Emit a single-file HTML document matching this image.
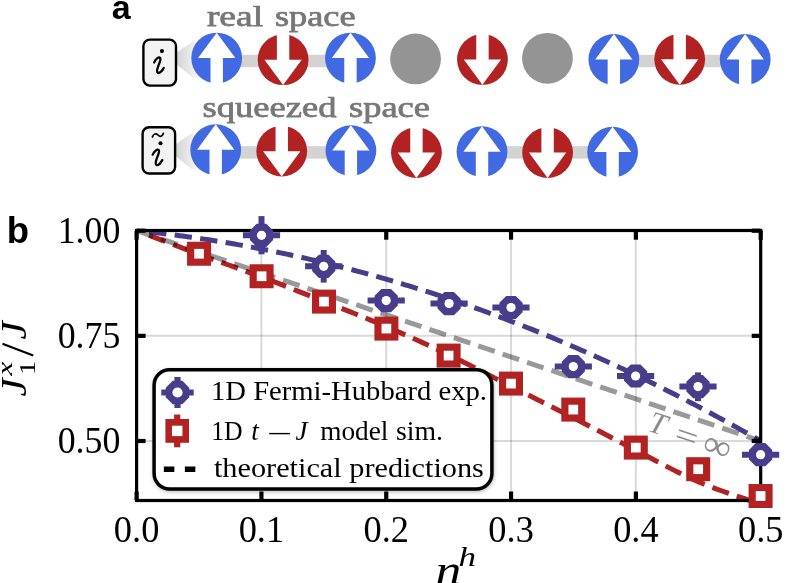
<!DOCTYPE html>
<html><head><meta charset="utf-8"><style>html,body{margin:0;padding:0;background:#fff;}svg{display:block;will-change:transform;}</style></head>
<body>
<svg width="800" height="583" viewBox="0 0 800 583">
<defs>
<linearGradient id="cone" x1="0" y1="0" x2="1" y2="0"><stop offset="0" stop-color="#d2d2d2"/><stop offset="1" stop-color="#f9f9f9"/></linearGradient>
<filter id="sh" x="-10%" y="-10%" width="120%" height="130%"><feGaussianBlur stdDeviation="2.2"/></filter>
</defs>
<rect width="800" height="583" fill="#fff"/>
<text x="111.8" y="18.6" font-family="Liberation Sans, sans-serif" font-weight="bold" font-size="34" fill="#000">a</text>
<text x="206.9" y="25.9" font-family="Liberation Serif, serif" font-size="30" fill="#777" stroke="#777" stroke-width="0.75" lengthAdjust="spacingAndGlyphs" textLength="56.2">real</text>
<text x="274.9" y="25.9" font-family="Liberation Serif, serif" font-size="30" fill="#777" stroke="#777" stroke-width="0.75" lengthAdjust="spacingAndGlyphs" textLength="80.6">space</text>
<text x="202.6" y="117.4" font-family="Liberation Serif, serif" font-size="30" fill="#777" stroke="#777" stroke-width="0.75" lengthAdjust="spacingAndGlyphs" textLength="133.8">squeezed</text>
<text x="349.0" y="117.4" font-family="Liberation Serif, serif" font-size="30" fill="#777" stroke="#777" stroke-width="0.75" lengthAdjust="spacingAndGlyphs" textLength="81">space</text>
<polygon fill="url(#cone)" points="176.2,52.8 192.8,41.4 199.3,41.4 199.3,77.8 192.8,77.8 176.2,64.0"/>
<rect x="216.70" y="54.80" width="66.40" height="12.4" fill="#d3d3d3"/>
<rect x="283.10" y="54.80" width="67.35" height="12.4" fill="#d3d3d3"/>
<rect x="613.85" y="54.80" width="65.85" height="12.4" fill="#d3d3d3"/>
<rect x="679.70" y="54.80" width="65.50" height="12.4" fill="#d3d3d3"/>
<circle cx="216.70" cy="58.05" r="25.4" fill="#4169e1"/><polygon fill="#fff" points="216.70,32.65 235.35,58.05 222.90,58.05 222.90,84.45 210.50,84.45 210.50,58.05 198.05,58.05"/>
<circle cx="283.10" cy="59.70" r="25.4" fill="#b22222"/><polygon fill="#fff" points="283.10,85.10 301.75,59.70 289.30,59.70 289.30,33.30 276.90,33.30 276.90,59.70 264.45,59.70"/>
<circle cx="350.45" cy="58.05" r="25.4" fill="#4169e1"/><polygon fill="#fff" points="350.45,32.65 369.10,58.05 356.65,58.05 356.65,84.45 344.25,84.45 344.25,58.05 331.80,58.05"/>
<circle cx="415.55" cy="58.95" r="25.4" fill="#949494"/>
<circle cx="482.45" cy="59.45" r="25.4" fill="#b22222"/><polygon fill="#fff" points="482.45,84.85 501.10,59.45 488.65,59.45 488.65,33.05 476.25,33.05 476.25,59.45 463.80,59.45"/>
<circle cx="547.45" cy="58.30" r="25.4" fill="#949494"/>
<circle cx="613.85" cy="59.50" r="25.4" fill="#4169e1"/><polygon fill="#fff" points="613.85,34.10 632.50,59.50 620.05,59.50 620.05,85.90 607.65,85.90 607.65,59.50 595.20,59.50"/>
<circle cx="679.70" cy="59.30" r="25.4" fill="#b22222"/><polygon fill="#fff" points="679.70,84.70 698.35,59.30 685.90,59.30 685.90,32.90 673.50,32.90 673.50,59.30 661.05,59.30"/>
<circle cx="745.20" cy="59.50" r="25.4" fill="#4169e1"/><polygon fill="#fff" points="745.20,34.10 763.85,59.50 751.40,59.50 751.40,85.90 739.00,85.90 739.00,59.50 726.55,59.50"/>
<rect x="143.40" y="39.60" width="32.60" height="46.00" rx="6.5" fill="#f3f3f3" stroke="#000" stroke-width="2.4"/>
<path d="M154.10,62.50 C155.50,59.30 158.60,56.40 160.20,57.90 C161.20,59.50 159.50,63.00 158.30,66.00 C157.20,69.00 156.20,71.60 157.80,72.80 C159.60,73.80 162.50,70.50 163.70,67.90" fill="none" stroke="#000" stroke-width="2.3" stroke-linecap="round"/><circle cx="161.90" cy="51.10" r="2.05" fill="#000"/>
<polygon fill="url(#cone)" points="175.3,144.4 191.8,133.1 198.3,133.1 198.3,169.4 191.8,169.4 175.3,155.7"/>
<rect x="215.70" y="146.20" width="66.05" height="12.4" fill="#d3d3d3"/>
<rect x="281.75" y="146.20" width="69.15" height="12.4" fill="#d3d3d3"/>
<rect x="482.00" y="146.20" width="65.60" height="12.4" fill="#d3d3d3"/>
<rect x="547.60" y="146.20" width="65.00" height="12.4" fill="#d3d3d3"/>
<circle cx="215.70" cy="149.70" r="25.4" fill="#4169e1"/><polygon fill="#fff" points="215.70,124.30 234.35,149.70 221.90,149.70 221.90,176.10 209.50,176.10 209.50,149.70 197.05,149.70"/>
<circle cx="281.75" cy="151.15" r="25.4" fill="#b22222"/><polygon fill="#fff" points="281.75,176.55 300.40,151.15 287.95,151.15 287.95,124.75 275.55,124.75 275.55,151.15 263.10,151.15"/>
<circle cx="350.90" cy="150.60" r="25.4" fill="#4169e1"/><polygon fill="#fff" points="350.90,125.20 369.55,150.60 357.10,150.60 357.10,177.00 344.70,177.00 344.70,150.60 332.25,150.60"/>
<circle cx="416.45" cy="152.60" r="25.4" fill="#b22222"/><polygon fill="#fff" points="416.45,178.00 435.10,152.60 422.65,152.60 422.65,126.20 410.25,126.20 410.25,152.60 397.80,152.60"/>
<circle cx="482.00" cy="151.65" r="25.4" fill="#4169e1"/><polygon fill="#fff" points="482.00,126.25 500.65,151.65 488.20,151.65 488.20,178.05 475.80,178.05 475.80,151.65 463.35,151.65"/>
<circle cx="547.60" cy="152.60" r="25.4" fill="#b22222"/><polygon fill="#fff" points="547.60,178.00 566.25,152.60 553.80,152.60 553.80,126.20 541.40,126.20 541.40,152.60 528.95,152.60"/>
<circle cx="612.60" cy="152.10" r="25.4" fill="#4169e1"/><polygon fill="#fff" points="612.60,126.70 631.25,152.10 618.80,152.10 618.80,178.50 606.40,178.50 606.40,152.10 593.95,152.10"/>
<rect x="142.60" y="127.20" width="32.50" height="46.30" rx="6.5" fill="#f3f3f3" stroke="#000" stroke-width="2.4"/>
<path d="M152.70,154.60 C154.10,151.40 157.20,148.50 158.80,150.00 C159.80,151.60 158.10,155.10 156.90,158.10 C155.80,161.10 154.80,163.70 156.40,164.90 C158.20,165.90 161.10,162.60 162.30,160.00" fill="none" stroke="#000" stroke-width="2.3" stroke-linecap="round"/><circle cx="160.50" cy="143.20" r="2.05" fill="#000"/>
<path d="M152.4,136.9 C153.6,133.6 156.2,133.1 158,135 C159.8,136.9 162.2,136.9 163.4,133.4" fill="none" stroke="#000" stroke-width="1.7" stroke-linecap="round"/>
<text x="6.7" y="243.2" font-family="Liberation Sans, sans-serif" font-weight="bold" font-size="36.5" fill="#000">b</text>
<line x1="261.42" y1="230.7" x2="261.42" y2="500.5" stroke="#000" stroke-opacity="0.15" stroke-width="2"/>
<line x1="386.24" y1="230.7" x2="386.24" y2="500.5" stroke="#000" stroke-opacity="0.15" stroke-width="2"/>
<line x1="511.06" y1="230.7" x2="511.06" y2="500.5" stroke="#000" stroke-opacity="0.15" stroke-width="2"/>
<line x1="635.88" y1="230.7" x2="635.88" y2="500.5" stroke="#000" stroke-opacity="0.15" stroke-width="2"/>
<line x1="136.6" y1="335.85" x2="760.7" y2="335.85" stroke="#000" stroke-opacity="0.15" stroke-width="2"/>
<line x1="136.6" y1="441.00" x2="760.7" y2="441.00" stroke="#000" stroke-opacity="0.15" stroke-width="2"/>
<path d="M149.08,235.33 L151.45,236.23 L154.37,237.34 L157.76,238.64 L161.56,240.09 L165.71,241.68 L170.15,243.37 L174.79,245.14 L179.59,246.96 L184.48,248.81 L189.39,250.66 L194.25,252.48 L199.01,254.25 L203.77,256.01 L208.69,257.80 L213.73,259.63 L218.89,261.48 L224.13,263.36 L229.43,265.27 L234.78,267.19 L240.15,269.13 L245.52,271.08 L250.87,273.04 L256.18,275.00 L261.42,276.97 L266.62,278.94 L271.82,280.92 L277.02,282.93 L282.22,284.94 L287.42,286.97 L292.62,289.01 L297.83,291.05 L303.03,293.10 L308.23,295.16 L313.43,297.23 L318.63,299.29 L323.83,301.36 L329.03,303.42 L334.23,305.48 L339.43,307.54 L344.63,309.60 L349.83,311.67 L355.03,313.74 L360.24,315.83 L365.44,317.94 L370.64,320.06 L375.84,322.21 L381.04,324.39 L386.24,326.60 L391.44,328.83 L396.64,331.08 L401.84,333.36 L407.04,335.65 L412.24,337.96 L417.44,340.29 L422.65,342.65 L427.85,345.03 L433.05,347.43 L438.25,349.85 L443.45,352.30 L448.65,354.78 L453.85,357.29 L459.05,359.84 L464.25,362.43 L469.45,365.04 L474.65,367.68 L479.85,370.34 L485.06,373.01 L490.26,375.68 L495.46,378.36 L500.66,381.03 L505.86,383.68 L511.06,386.32 L516.26,388.95 L521.46,391.57 L526.66,394.19 L531.86,396.81 L537.06,399.42 L542.26,402.04 L547.47,404.66 L552.67,407.29 L557.87,409.92 L563.07,412.56 L568.27,415.21 L573.47,417.87 L578.67,420.54 L583.87,423.23 L589.07,425.92 L594.27,428.63 L599.47,431.34 L604.67,434.06 L609.88,436.78 L615.08,439.49 L620.28,442.20 L625.48,444.89 L630.68,447.58 L635.88,450.25 L641.08,452.94 L646.28,455.67 L651.48,458.42 L656.68,461.17 L661.88,463.93 L667.09,466.66 L672.29,469.35 L677.49,472.00 L682.69,474.58 L687.89,477.09 L693.09,479.50 L698.29,481.80 L703.69,484.05 L709.41,486.31 L715.36,488.54 L721.40,490.74 L727.45,492.87 L733.40,494.92 L739.12,496.85 L744.52,498.65 L749.49,500.30 L753.91,501.77 L757.68,503.04 L760.70,504.09" stroke="#b22222" stroke-dasharray="17.4 8.35" stroke-width="5" fill="none"/>
<path d="M149.08,231.99 L152.14,232.33 L155.20,232.67 L158.26,233.02 L161.31,233.38 L164.37,233.74 L167.43,234.11 L170.49,234.49 L173.55,234.87 L176.60,235.27 L179.66,235.67 L182.72,236.07 L185.78,236.49 L188.84,236.91 L191.90,237.33 L194.95,237.77 L198.01,238.21 L201.07,238.66 L204.13,239.12 L207.19,239.58 L210.24,240.05 L213.30,240.53 L216.36,241.01 L219.42,241.51 L222.48,242.01 L225.53,242.51 L228.59,243.03 L231.65,243.55 L234.71,244.07 L237.77,244.61 L240.82,245.15 L243.88,245.70 L246.94,246.26 L250.00,246.82 L253.06,247.39 L256.12,247.97 L259.17,248.55 L262.23,249.15 L265.29,249.74 L268.35,250.35 L271.41,250.96 L274.46,251.58 L277.52,252.21 L280.58,252.85 L283.64,253.49 L286.70,254.14 L289.75,254.79 L292.81,255.46 L295.87,256.13 L298.93,256.81 L301.99,257.49 L305.04,258.18 L308.10,258.88 L311.16,259.59 L314.22,260.30 L317.28,261.02 L320.34,261.75 L323.39,262.48 L326.45,263.23 L329.51,263.97 L332.57,264.73 L335.63,265.49 L338.68,266.26 L341.74,267.04 L344.80,267.83 L347.86,268.62 L350.92,269.42 L353.97,270.22 L357.03,271.04 L360.09,271.86 L363.15,272.68 L366.21,273.52 L369.26,274.36 L372.32,275.21 L375.38,276.06 L378.44,276.93 L381.50,277.80 L384.55,278.68 L387.61,279.56 L390.67,280.45 L393.73,281.35 L396.79,282.26 L399.85,283.17 L402.90,284.09 L405.96,285.02 L409.02,285.95 L412.08,286.89 L415.14,287.84 L418.19,288.80 L421.25,289.76 L424.31,290.73 L427.37,291.71 L430.43,292.69 L433.48,293.68 L436.54,294.68 L439.60,295.69 L442.66,296.70 L445.72,297.72 L448.77,298.75 L451.83,299.78 L454.89,300.82 L457.95,301.87 L461.01,302.93 L464.07,303.99 L467.12,305.06 L470.18,306.14 L473.24,307.22 L476.30,308.31 L479.36,309.41 L482.41,310.52 L485.47,311.63 L488.53,312.75 L491.59,313.88 L494.65,315.01 L497.70,316.15 L500.76,317.30 L503.82,318.46 L506.88,319.62 L509.94,320.79 L512.99,321.97 L516.05,323.15 L519.11,324.34 L522.17,325.54 L525.23,326.75 L528.29,327.96 L531.34,329.18 L534.40,330.41 L537.46,331.64 L540.52,332.88 L543.58,334.13 L546.63,335.39 L549.69,336.65 L552.75,337.92 L555.81,339.19 L558.87,340.48 L561.92,341.77 L564.98,343.07 L568.04,344.37 L571.10,345.69 L574.16,347.01 L577.21,348.33 L580.27,349.67 L583.33,351.01 L586.39,352.36 L589.45,353.71 L592.51,355.07 L595.56,356.44 L598.62,357.82 L601.68,359.20 L604.74,360.60 L607.80,361.99 L610.85,363.40 L613.91,364.81 L616.97,366.23 L620.03,367.66 L623.09,369.09 L626.14,370.53 L629.20,371.98 L632.26,373.44 L635.32,374.90 L638.38,376.37 L641.43,377.84 L644.49,379.33 L647.55,380.82 L650.61,382.32 L653.67,383.82 L656.72,385.33 L659.78,386.85 L662.84,388.38 L665.90,389.91 L668.96,391.46 L672.02,393.00 L675.07,394.56 L678.13,396.12 L681.19,397.69 L684.25,399.27 L687.31,400.85 L690.36,402.44 L693.42,404.04 L696.48,405.64 L699.54,407.26 L702.60,408.88 L705.65,410.50 L708.71,412.14 L711.77,413.78 L714.83,415.43 L717.89,417.08 L720.94,418.74 L724.00,420.41 L727.06,422.09 L730.12,423.77 L733.18,425.46 L736.24,427.16 L739.29,428.87 L742.35,430.58 L745.41,432.30 L748.47,434.02 L751.53,435.76 L754.58,437.50 L757.64,439.25 L760.70,441.00" stroke="#483d8b" stroke-dasharray="17.4 8.35" stroke-width="5" fill="none"/>
<path d="M136.60,230.70 L760.70,441.00" stroke="#000" stroke-opacity="0.4" stroke-dasharray="17.4 8.35" stroke-width="5" fill="none"/>
<text transform="translate(646.5,430.5) rotate(18.6)" font-family="Liberation Serif, serif" fill="#8c8c8c" font-size="31" font-style="italic">T</text>
<text transform="translate(672.4,442.7) rotate(18.6) scale(1.3,1.05)" font-family="Liberation Serif, serif" fill="#8c8c8c" font-size="31">=</text>
<text transform="translate(700.6,452.5) rotate(18.6) scale(1.27,1.17)" font-family="Liberation Serif, serif" fill="#8c8c8c" font-size="31">∞</text>
<rect x="136.6" y="230.5" width="624.10" height="270.00" fill="none" stroke="#000" stroke-width="3.2"/>
<line x1="261.42" y1="500.5" x2="261.42" y2="491.5" stroke="#000" stroke-width="4.2"/>
<line x1="261.42" y1="230.7" x2="261.42" y2="239.7" stroke="#000" stroke-width="4.2"/>
<line x1="386.24" y1="500.5" x2="386.24" y2="491.5" stroke="#000" stroke-width="4.2"/>
<line x1="386.24" y1="230.7" x2="386.24" y2="239.7" stroke="#000" stroke-width="4.2"/>
<line x1="511.06" y1="500.5" x2="511.06" y2="491.5" stroke="#000" stroke-width="4.2"/>
<line x1="511.06" y1="230.7" x2="511.06" y2="239.7" stroke="#000" stroke-width="4.2"/>
<line x1="635.88" y1="500.5" x2="635.88" y2="491.5" stroke="#000" stroke-width="4.2"/>
<line x1="635.88" y1="230.7" x2="635.88" y2="239.7" stroke="#000" stroke-width="4.2"/>
<line x1="136.6" y1="230.70" x2="145.6" y2="230.70" stroke="#000" stroke-width="4.2"/>
<line x1="760.70" y1="230.70" x2="751.70" y2="230.70" stroke="#000" stroke-width="4.2"/>
<line x1="136.6" y1="335.85" x2="145.6" y2="335.85" stroke="#000" stroke-width="4.2"/>
<line x1="760.70" y1="335.85" x2="751.70" y2="335.85" stroke="#000" stroke-width="4.2"/>
<line x1="136.6" y1="441.00" x2="145.6" y2="441.00" stroke="#000" stroke-width="4.2"/>
<line x1="760.70" y1="441.00" x2="751.70" y2="441.00" stroke="#000" stroke-width="4.2"/>
<line x1="136.60" y1="500.5" x2="136.60" y2="491.5" stroke="#000" stroke-width="4.2"/>
<line x1="136.60" y1="230.7" x2="136.60" y2="239.7" stroke="#000" stroke-width="4.2"/>
<line x1="760.70" y1="500.5" x2="760.70" y2="491.5" stroke="#000" stroke-width="4.2"/>
<line x1="760.70" y1="230.7" x2="760.70" y2="239.7" stroke="#000" stroke-width="4.2"/>
<rect x="187.05" y="241.75" width="24" height="24" fill="#b22222"/>
<rect x="194.20" y="248.90" width="9.7" height="9.7" fill="#fff"/>
<rect x="249.60" y="264.25" width="24" height="24" fill="#b22222"/>
<rect x="256.75" y="271.40" width="9.7" height="9.7" fill="#fff"/>
<rect x="312.00" y="289.60" width="24" height="24" fill="#b22222"/>
<rect x="319.15" y="296.75" width="9.7" height="9.7" fill="#fff"/>
<rect x="374.40" y="316.60" width="24" height="24" fill="#b22222"/>
<rect x="381.55" y="323.75" width="9.7" height="9.7" fill="#fff"/>
<rect x="436.60" y="343.60" width="24" height="24" fill="#b22222"/>
<rect x="443.75" y="350.75" width="9.7" height="9.7" fill="#fff"/>
<rect x="499.00" y="371.60" width="24" height="24" fill="#b22222"/>
<rect x="506.15" y="378.75" width="9.7" height="9.7" fill="#fff"/>
<rect x="561.30" y="397.60" width="24" height="24" fill="#b22222"/>
<rect x="568.45" y="404.75" width="9.7" height="9.7" fill="#fff"/>
<rect x="623.80" y="435.60" width="24" height="24" fill="#b22222"/>
<rect x="630.95" y="442.75" width="9.7" height="9.7" fill="#fff"/>
<rect x="686.20" y="457.20" width="24" height="24" fill="#b22222"/>
<rect x="693.35" y="464.35" width="9.7" height="9.7" fill="#fff"/>
<rect x="748.60" y="484.00" width="24" height="24" fill="#b22222"/>
<rect x="755.75" y="491.15" width="9.7" height="9.7" fill="#fff"/>
<line x1="242.90" y1="235.30" x2="280.10" y2="235.30" stroke="#483d8b" stroke-width="6"/>
<line x1="261.50" y1="216.10" x2="261.50" y2="254.30" stroke="#483d8b" stroke-width="6"/>
<polygon points="273.10,240.10 266.30,246.90 256.70,246.90 249.90,240.10 249.90,230.50 256.70,223.70 266.30,223.70 273.10,230.50" fill="#483d8b"/>
<circle cx="261.50" cy="235.30" r="4.6" fill="#fff"/>
<line x1="305.10" y1="266.30" x2="342.30" y2="266.30" stroke="#483d8b" stroke-width="6"/>
<line x1="323.70" y1="250.00" x2="323.70" y2="282.60" stroke="#483d8b" stroke-width="6"/>
<polygon points="335.30,271.10 328.50,277.90 318.90,277.90 312.10,271.10 312.10,261.50 318.90,254.70 328.50,254.70 335.30,261.50" fill="#483d8b"/>
<circle cx="323.70" cy="266.30" r="4.6" fill="#fff"/>
<line x1="367.60" y1="300.60" x2="404.80" y2="300.60" stroke="#483d8b" stroke-width="6"/>
<line x1="386.20" y1="290.60" x2="386.20" y2="310.60" stroke="#483d8b" stroke-width="6"/>
<polygon points="397.80,305.40 391.00,312.20 381.40,312.20 374.60,305.40 374.60,295.80 381.40,289.00 391.00,289.00 397.80,295.80" fill="#483d8b"/>
<circle cx="386.20" cy="300.60" r="4.6" fill="#fff"/>
<line x1="430.50" y1="303.60" x2="467.70" y2="303.60" stroke="#483d8b" stroke-width="6"/>
<line x1="449.10" y1="294.60" x2="449.10" y2="312.60" stroke="#483d8b" stroke-width="6"/>
<polygon points="460.70,308.40 453.90,315.20 444.30,315.20 437.50,308.40 437.50,298.80 444.30,292.00 453.90,292.00 460.70,298.80" fill="#483d8b"/>
<circle cx="449.10" cy="303.60" r="4.6" fill="#fff"/>
<line x1="492.40" y1="307.50" x2="529.60" y2="307.50" stroke="#483d8b" stroke-width="6"/>
<line x1="511.00" y1="298.50" x2="511.00" y2="316.50" stroke="#483d8b" stroke-width="6"/>
<polygon points="522.60,312.30 515.80,319.10 506.20,319.10 499.40,312.30 499.40,302.70 506.20,295.90 515.80,295.90 522.60,302.70" fill="#483d8b"/>
<circle cx="511.00" cy="307.50" r="4.6" fill="#fff"/>
<line x1="554.70" y1="366.60" x2="591.90" y2="366.60" stroke="#483d8b" stroke-width="6"/>
<line x1="573.30" y1="357.60" x2="573.30" y2="375.60" stroke="#483d8b" stroke-width="6"/>
<polygon points="584.90,371.40 578.10,378.20 568.50,378.20 561.70,371.40 561.70,361.80 568.50,355.00 578.10,355.00 584.90,361.80" fill="#483d8b"/>
<circle cx="573.30" cy="366.60" r="4.6" fill="#fff"/>
<line x1="617.00" y1="376.00" x2="654.20" y2="376.00" stroke="#483d8b" stroke-width="6"/>
<line x1="635.60" y1="367.00" x2="635.60" y2="385.00" stroke="#483d8b" stroke-width="6"/>
<polygon points="647.20,380.80 640.40,387.60 630.80,387.60 624.00,380.80 624.00,371.20 630.80,364.40 640.40,364.40 647.20,371.20" fill="#483d8b"/>
<circle cx="635.60" cy="376.00" r="4.6" fill="#fff"/>
<line x1="679.40" y1="386.60" x2="716.60" y2="386.60" stroke="#483d8b" stroke-width="6"/>
<line x1="698.00" y1="372.40" x2="698.00" y2="401.20" stroke="#483d8b" stroke-width="6"/>
<polygon points="709.60,391.40 702.80,398.20 693.20,398.20 686.40,391.40 686.40,381.80 693.20,375.00 702.80,375.00 709.60,381.80" fill="#483d8b"/>
<circle cx="698.00" cy="386.60" r="4.6" fill="#fff"/>
<line x1="742.00" y1="454.70" x2="779.20" y2="454.70" stroke="#483d8b" stroke-width="6"/>
<line x1="760.60" y1="445.70" x2="760.60" y2="463.70" stroke="#483d8b" stroke-width="6"/>
<polygon points="772.20,459.50 765.40,466.30 755.80,466.30 749.00,459.50 749.00,449.90 755.80,443.10 765.40,443.10 772.20,449.90" fill="#483d8b"/>
<circle cx="760.60" cy="454.70" r="4.6" fill="#fff"/>
<text transform="translate(120.3,243.0) scale(0.935,1)" text-anchor="end" font-family="Liberation Serif, serif" font-size="38.3" fill="#000">1.00</text>
<text transform="translate(120.3,348.2) scale(0.935,1)" text-anchor="end" font-family="Liberation Serif, serif" font-size="38.3" fill="#000">0.75</text>
<text transform="translate(120.3,453.3) scale(0.935,1)" text-anchor="end" font-family="Liberation Serif, serif" font-size="38.3" fill="#000">0.50</text>
<text transform="translate(136.6,541.9) scale(0.95,1)" text-anchor="middle" font-family="Liberation Serif, serif" font-size="38.3" fill="#000">0.0</text>
<text transform="translate(261.4,541.9) scale(0.95,1)" text-anchor="middle" font-family="Liberation Serif, serif" font-size="38.3" fill="#000">0.1</text>
<text transform="translate(386.2,541.9) scale(0.95,1)" text-anchor="middle" font-family="Liberation Serif, serif" font-size="38.3" fill="#000">0.2</text>
<text transform="translate(511.1,541.9) scale(0.95,1)" text-anchor="middle" font-family="Liberation Serif, serif" font-size="38.3" fill="#000">0.3</text>
<text transform="translate(635.9,541.9) scale(0.95,1)" text-anchor="middle" font-family="Liberation Serif, serif" font-size="38.3" fill="#000">0.4</text>
<text transform="translate(760.7,541.9) scale(0.95,1)" text-anchor="middle" font-family="Liberation Serif, serif" font-size="38.3" fill="#000">0.5</text>
<text transform="translate(435.6,583.5) scale(1.2,1)" font-family="Liberation Serif, serif" font-style="italic" font-size="43" fill="#000">n</text>
<text transform="translate(458.5,566.3) scale(1.3,1)" font-family="Liberation Serif, serif" font-style="italic" font-size="27" fill="#000">h</text>
<g transform="rotate(-90)"><text transform="translate(-396.5,26.2) scale(1.2,1.05)" font-family="Liberation Serif, serif" fill="#000" font-style="italic" font-size="34">J</text><text transform="translate(-375.5,11.6) scale(1.45,1)" font-family="Liberation Serif, serif" fill="#000" font-style="italic" font-size="21.5">x</text><text transform="translate(-375,34.7) scale(1.2,1)" font-family="Liberation Serif, serif" fill="#000" font-size="23.5">1</text><text transform="translate(-339.5,26.2) scale(1.2,1.05)" font-family="Liberation Serif, serif" fill="#000" font-style="italic" font-size="34">J</text></g>
<line x1="33.2" y1="355.6" x2="2.5" y2="343.7" stroke="#000" stroke-width="2.1"/>
<rect x="153.2" y="370" width="340.6" height="121.8" rx="17" fill="#000" fill-opacity="0.3" filter="url(#sh)"/>
<rect x="154.1" y="369.7" width="337.8" height="119.4" rx="15.5" fill="#fff" stroke="#000" stroke-width="3.5"/>
<line x1="161.3" y1="392.5" x2="193.7" y2="392.5" stroke="#483d8b" stroke-width="6"/>
<line x1="177.5" y1="377.0" x2="177.5" y2="408.0" stroke="#483d8b" stroke-width="6.2"/>
<polygon points="189.20,397.35 182.35,404.20 172.65,404.20 165.80,397.35 165.80,387.65 172.65,380.80 182.35,380.80 189.20,387.65" fill="#483d8b"/>
<circle cx="177.5" cy="392.5" r="5.1" fill="#fff"/>
<line x1="177.2" y1="414.5" x2="177.2" y2="447.29999999999995" stroke="#b22222" stroke-width="6.2"/>
<rect x="165.40" y="419.00" width="23.6" height="23.8" fill="#b22222"/>
<rect x="171.95" y="425.70" width="10.5" height="10.4" fill="#fff"/>
<line x1="163.85" y1="469.25" x2="195.5" y2="469.25" stroke="#000" stroke-width="5.3" stroke-dasharray="10.5 10.5"/>
<text x="211" y="400" font-family="Liberation Serif, serif" font-size="27" fill="#000" textLength="276" lengthAdjust="spacingAndGlyphs">1D Fermi-Hubbard exp.</text>
<text x="211.2" y="439.8" font-family="Liberation Serif, serif" font-size="27" fill="#000" textLength="31.5" lengthAdjust="spacingAndGlyphs">1D</text>
<text x="251.2" y="439.8" font-family="Liberation Serif, serif" font-size="27" fill="#000" font-style="italic">t</text>
<rect x="269.2" y="432.9" width="20.8" height="1.4" fill="#000"/>
<text x="295.5" y="439.8" font-family="Liberation Serif, serif" font-size="27" fill="#000" font-style="italic">J</text>
<text x="320.2" y="439.8" font-family="Liberation Serif, serif" font-size="27" fill="#000" textLength="68.2" lengthAdjust="spacingAndGlyphs">model</text>
<text x="396" y="439.8" font-family="Liberation Serif, serif" font-size="27" fill="#000" textLength="47" lengthAdjust="spacingAndGlyphs">sim.</text>
<text x="213.9" y="476.5" font-family="Liberation Serif, serif" font-size="27" fill="#000" textLength="270" lengthAdjust="spacingAndGlyphs">theoretical predictions</text>
</svg>
</body></html>
